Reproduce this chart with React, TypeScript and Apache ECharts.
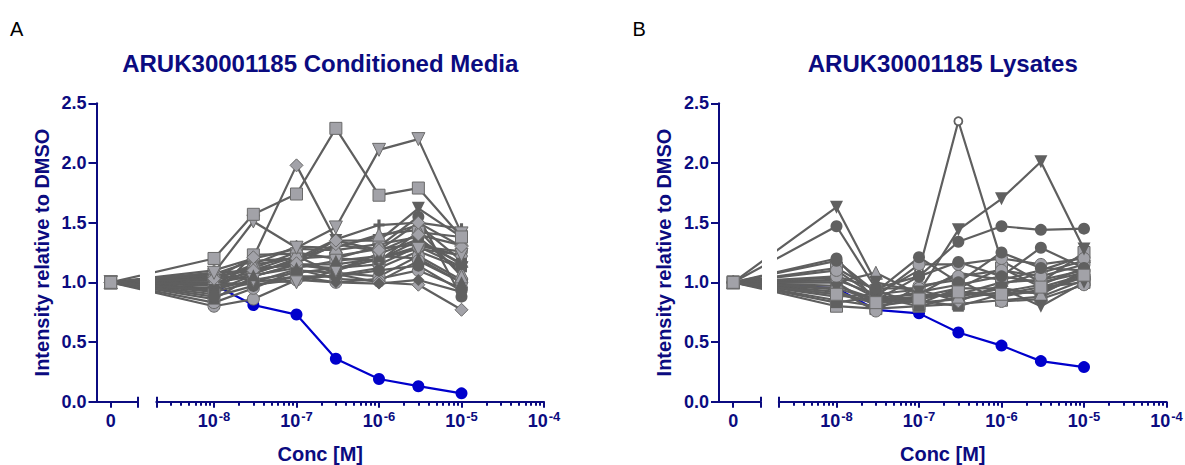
import React, { useEffect, useRef } from 'react';
import * as echarts from 'echarts';

// ---------------- data ----------------
const concentrations = [0, 1e-8, 3e-8, 1e-7, 3e-7, 1e-6, 3e-6, 1e-5];
const yTickValues = [0, 0.5, 1.0, 1.5, 2.0, 2.5];
const decadeTicks = [1e-8, 1e-7, 1e-6, 1e-5, 1e-4];
const logAxisStart = 2e-9;
const panelTitles = ['ARUK30001185 Conditioned Media', 'ARUK30001185 Lysates'];
const panelLetters = ['A', 'B'];
const yAxisTitle = 'Intensity relative to DMSO';
const xAxisTitle = 'Conc [M]';

const mediaControl = [1.0, 0.98, 0.81, 0.73, 0.36, 0.19, 0.13, 0.07];
const lysateControl = [1.0, 0.95, 0.77, 0.74, 0.58, 0.47, 0.34, 0.29];

const mediaTraces = [
  [1, 0.80, 0.86, 1.02, 1.00, 1.03, 1.10, 0.95],
  [1, 0.83, 0.95, 1.10, 1.08, 1.05, 1.22, 1.02],
  [1, 0.86, 1.05, 1.15, 1.15, 1.20, 1.30, 1.13],
  [1, 0.92, 1.00, 1.11, 1.03, 1.01, 1.18, 1.00],
  [1, 1.05, 1.10, 1.22, 1.07, 1.00, 0.98, 0.77],
  [1, 1.00, 0.98, 1.02, 1.06, 1.12, 1.26, 1.12],
  [1, 1.10, 1.20, 1.28, 1.27, 1.32, 1.38, 1.08],
  [1, 0.98, 1.15, 1.20, 1.36, 1.48, 1.50, 1.45],
  [1, 1.02, 1.08, 1.18, 1.35, 1.35, 1.62, 1.38],
  [1, 0.95, 1.12, 1.25, 1.20, 1.30, 1.55, 0.88],
  [1, 1.07, 1.18, 1.20, 1.30, 1.38, 1.48, 1.18],
  [1, 0.90, 1.23, 1.24, 1.20, 1.18, 1.42, 1.38],
  [1, 0.97, 1.00, 1.05, 1.00, 0.99, 1.02, 0.92],
  [1, 1.00, 1.05, 1.15, 1.10, 1.24, 1.36, 1.15],
  [1, 1.04, 1.12, 1.14, 1.12, 1.15, 1.30, 1.26],
  [1, 0.99, 1.07, 1.20, 1.22, 1.28, 1.32, 1.22],
  [1, 1.02, 1.15, 1.30, 1.29, 1.40, 1.44, 1.05],
  [1, 0.94, 1.02, 1.08, 1.12, 1.19, 1.35, 1.16],
  [1, 1.08, 1.10, 1.16, 1.32, 1.26, 1.40, 1.31],
  [1, 0.88, 0.97, 1.05, 1.05, 1.10, 1.14, 0.93],
  [1, 1.06, 1.02, 1.00, 1.10, 1.20, 1.28, 1.23],
  [1, 0.93, 1.06, 1.12, 1.18, 1.22, 1.20, 1.00],
  [1, 1.03, 1.21, 1.98, 1.35, 1.27, 1.50, 1.30],
  [1, 1.08, 1.51, 1.29, 1.46, 2.11, 2.20, 1.41],
  [1, 1.20, 1.57, 1.74, 2.29, 1.73, 1.79, 1.38],
];
const mediaMarkers = [
  'ciL', 'ciL', 'sqD', 'ciL', 'diL', 'tdL', 'trL', 'crD', 'tdD', 'ciD', 'trL', 'sqL', 'diD',
  'hxD', 'ciL', 'hxL', 'trL', 'sqD', 'diL', 'ciD', 'tdL', 'trD', 'diL', 'tdL', 'sqL',
];

const lysateTraces = [
  [1, 1.02, 0.90, 1.10, 2.35, 1.18, 1.00, 1.08],
  [1, 0.80, 0.78, 0.80, 0.82, 0.85, 0.88, 1.02],
  [1, 0.85, 0.80, 0.85, 0.80, 0.90, 0.92, 1.05],
  [1, 0.92, 0.82, 0.88, 0.90, 1.00, 1.02, 1.10],
  [1, 0.97, 0.86, 0.83, 0.86, 0.92, 0.98, 1.12],
  [1, 1.00, 0.80, 0.86, 0.92, 0.88, 0.94, 1.04],
  [1, 0.88, 0.90, 0.94, 0.84, 0.98, 1.08, 1.18],
  [1, 1.12, 0.93, 0.82, 0.95, 1.12, 0.96, 1.00],
  [1, 0.94, 0.76, 0.97, 1.02, 0.84, 0.86, 0.98],
  [1, 1.04, 0.87, 0.90, 1.08, 1.02, 1.10, 1.22],
  [1, 0.83, 0.88, 0.80, 0.88, 0.95, 0.90, 1.10],
  [1, 1.00, 1.08, 0.90, 0.88, 0.95, 0.90, 1.08],
  [1, 0.90, 0.84, 0.92, 0.98, 1.05, 1.00, 1.25],
  [1, 1.05, 0.95, 0.95, 1.05, 1.10, 1.05, 1.15],
  [1, 1.10, 0.88, 1.15, 1.15, 1.20, 1.15, 1.20],
  [1, 0.95, 0.85, 0.88, 0.95, 0.95, 0.80, 1.00],
  [1, 1.18, 0.92, 1.21, 1.00, 1.25, 1.12, 1.10],
  [1, 1.20, 0.85, 1.05, 1.17, 1.05, 1.29, 1.12],
  [1, 1.47, 0.95, 1.05, 1.34, 1.47, 1.44, 1.45],
  [1, 1.63, 1.00, 0.92, 1.44, 1.70, 2.01, 1.28],
  [1, 0.90, 0.83, 0.86, 0.92, 0.90, 0.96, 1.06],
];
const lysateMarkers = [
  'oc', 'sqL', 'sqD', 'ciL', 'ciD', 'ciL', 'diL', 'sqL', 'ciL', 'trL', 'sqD', 'trL',
  'sqL', 'ciL', 'ciL', 'tdD', 'ciD', 'ciD', 'ciD', 'tdD', 'sqL',
];

// ---------------- styles & layout ----------------
const FONT = "'Liberation Sans', Arial, Helvetica, sans-serif";
const NAVY = '#0b0b80';
const BLUE = '#0000cc';
const GRAY_LINE = '#5f5f5f';
const LIGHT = '#a2a2a8';
const DARK = '#606060';

const PANEL_OFFSET = 622.5;
const Y_AXIS_X = 96.5;
const ZERO_X = 110.7;
const BREAK_LEFT = 138;
const X_1E8 = 214;
const DECADE_PX = 82.5;
const PLOT_TOP = 103.3;
const PLOT_BOTTOM = 401.7;

const CROSS = 'path://M5,0H9V5H14V9H9V14H5V9H0V5H5Z';
const HEX = 'path://M4,0L12,0L16,7L12,14L4,14L0,7Z';

const MARKERS: Record<string, any> = {
  sqL: { symbol: 'rect', size: 12, fill: LIGHT, border: true },
  sqD: { symbol: 'rect', size: 11, fill: DARK },
  ciL: { symbol: 'circle', size: 12, fill: LIGHT, border: true },
  ciD: { symbol: 'circle', size: 12, fill: DARK },
  trL: { symbol: 'triangle', size: 13, fill: LIGHT, border: true },
  trD: { symbol: 'triangle', size: 12, fill: DARK },
  tdL: { symbol: 'triangle', size: 13, fill: LIGHT, rotate: 180, border: true },
  tdD: { symbol: 'triangle', size: 13, fill: DARK, rotate: 180 },
  diL: { symbol: 'diamond', size: 13, fill: LIGHT, border: true },
  diD: { symbol: 'diamond', size: 12, fill: DARK },
  crD: { symbol: CROSS, size: 11, fill: DARK },
  hxL: { symbol: HEX, size: 12, fill: LIGHT, border: true },
  hxD: { symbol: HEX, size: 11, fill: DARK },
  oc: { symbol: 'circle', size: 8, fill: '#ffffff', stroke: DARK },
};

const pxToU = (px: number) => -8 + (px - X_1E8) / DECADE_PX;

function buildOption() {
  const grids: any[] = [];
  const xAxes: any[] = [];
  const yAxes: any[] = [];
  const series: any[] = [];
  const graphics: any[] = [];

  const uZeroMin = pxToU(Y_AXIS_X);
  const uZeroMax = pxToU(BREAK_LEFT);
  const uZero = pxToU(ZERO_X);
  const uLogMin = Math.log10(logAxisStart);
  const uLogMax = Math.log10(decadeTicks[decadeTicks.length - 1]);
  const logLeft = X_1E8 + (uLogMin + 8) * DECADE_PX;
  const logWidth = (uLogMax - uLogMin) * DECADE_PX;

  const majorU = decadeTicks.map((c) => Math.log10(c));
  const minorU: number[] = [];
  for (let n = -9; n <= -5; n++) {
    for (let k = 2; k <= 9; k++) {
      const u = n + Math.log10(k);
      if (u > uLogMin + 1e-6 && u < uLogMax - 1e-6) minorU.push(u);
    }
  }

  const tickLabelStyle = { color: NAVY, fontSize: 18, fontWeight: 'bold', fontFamily: FONT };
  const axisLine = { show: true, onZero: false, lineStyle: { color: NAVY, width: 2 } };

  const panels = [
    { control: mediaControl, traces: mediaTraces, markers: mediaMarkers },
    { control: lysateControl, traces: lysateTraces, markers: lysateMarkers },
  ];

  panels.forEach((panel, p) => {
    const dx = p * PANEL_OFFSET;
    const gZ = grids.length;
    grids.push({
      left: Y_AXIS_X + dx, top: PLOT_TOP, width: BREAK_LEFT - Y_AXIS_X,
      height: PLOT_BOTTOM - PLOT_TOP, outerBoundsMode: 'none', containLabel: false,
    });
    const gL = grids.length;
    grids.push({
      left: logLeft + dx, top: PLOT_TOP, width: logWidth,
      height: PLOT_BOTTOM - PLOT_TOP, outerBoundsMode: 'none', containLabel: false,
    });

    const xBase = xAxes.length;
    xAxes.push({
      type: 'value', gridIndex: gZ, position: 'bottom', min: uZeroMin, max: uZeroMax,
      axisLine, splitLine: { show: false },
      axisTick: { show: true, customValues: [uZero, uZeroMax], length: 6, lineStyle: { color: NAVY, width: 2 } },
      axisLabel: { show: true, customValues: [uZero], formatter: () => '0', margin: 10, ...tickLabelStyle },
    });
    xAxes.push({
      type: 'value', gridIndex: gZ, position: 'bottom', min: uZeroMin, max: uZeroMax,
      axisLine: { show: false }, splitLine: { show: false }, axisLabel: { show: false },
      axisTick: { show: true, inside: true, customValues: [uZeroMax], length: 5, lineStyle: { color: NAVY, width: 2 } },
    });
    xAxes.push({
      type: 'value', gridIndex: gL, position: 'bottom', min: uLogMin, max: uLogMax,
      axisLine, splitLine: { show: false },
      axisTick: { show: true, customValues: [uLogMin, ...majorU], length: 6, lineStyle: { color: NAVY, width: 2 } },
      axisLabel: {
        show: true, customValues: majorU, margin: 8,
        formatter: (v: number) => `{b|10}{s|${Math.round(v)}}`,
        rich: {
          b: { ...tickLabelStyle },
          s: { color: NAVY, fontSize: 13, fontWeight: 'bold', fontFamily: FONT, padding: [0, 0, 9, 1] },
        },
      },
    });
    xAxes.push({
      type: 'value', gridIndex: gL, position: 'bottom', min: uLogMin, max: uLogMax,
      axisLine: { show: false }, splitLine: { show: false }, axisLabel: { show: false },
      axisTick: { show: true, customValues: minorU, length: 4, lineStyle: { color: NAVY, width: 2 } },
    });
    xAxes.push({
      type: 'value', gridIndex: gL, position: 'bottom', min: uLogMin, max: uLogMax,
      axisLine: { show: false }, splitLine: { show: false }, axisLabel: { show: false },
      axisTick: { show: true, inside: true, customValues: [uLogMin], length: 5, lineStyle: { color: NAVY, width: 2 } },
    });

    const yZ = yAxes.length;
    yAxes.push({
      type: 'value', gridIndex: gZ, min: yTickValues[0], max: yTickValues[yTickValues.length - 1], interval: 0.5,
      axisLine, splitLine: { show: false },
      axisTick: { show: true, length: 8, lineStyle: { color: NAVY, width: 2 } },
      axisLabel: { margin: 10, formatter: (v: number) => v.toFixed(1), ...tickLabelStyle },
      name: yAxisTitle, nameLocation: 'middle', nameGap: 45,
      nameTextStyle: { color: NAVY, fontSize: 20, fontWeight: 'bold', fontFamily: FONT },
    });
    const yL = yAxes.length;
    yAxes.push({
      type: 'value', gridIndex: gL, min: yTickValues[0], max: yTickValues[yTickValues.length - 1], interval: 0.5,
      show: false,
    });

    const toPoints = (vals: number[]) =>
      concentrations.map((c, i) => [c === 0 ? uZero : Math.log10(c), vals[i]]);

    const addPair = (vals: number[], style: any) => {
      const data = toPoints(vals);
      series.push({ type: 'line', xAxisIndex: xBase, yAxisIndex: yZ, data, clip: true, ...style });
      series.push({ type: 'line', xAxisIndex: xBase + 2, yAxisIndex: yL, data, clip: true, ...style });
    };

    addPair(panel.control, {
      symbol: 'circle', symbolSize: 12,
      itemStyle: { color: BLUE },
      lineStyle: { color: BLUE, width: 2.2 },
      z: 2,
    });

    panel.traces.forEach((vals, i) => {
      const m = MARKERS[panel.markers[i]];
      addPair(vals, {
        symbol: m.symbol, symbolSize: m.size, symbolRotate: m.rotate || 0,
        itemStyle: {
          color: m.fill,
          borderColor: m.stroke || (m.border ? '#6a6a6a' : m.fill),
          borderWidth: m.stroke ? 1.8 : m.border ? 1 : 0,
        },
        lineStyle: { color: GRAY_LINE, width: 2.2 },
        z: 3,
      });
    });

    const centerX = (Y_AXIS_X + X_1E8 + (uLogMax + 8) * DECADE_PX) / 2 + dx;
    graphics.push({
      type: 'text', x: 10 + dx, y: 29,
      style: { text: panelLetters[p], fill: '#000', fontSize: 20, fontFamily: FONT, textAlign: 'left', textVerticalAlign: 'middle', align: 'left', verticalAlign: 'middle' },
    });
    graphics.push({
      type: 'text', x: centerX, y: 63,
      style: { text: panelTitles[p], fill: NAVY, fontSize: 24, fontWeight: 'bold', fontFamily: FONT, textAlign: 'center', textVerticalAlign: 'middle', align: 'center', verticalAlign: 'middle' },
    });
    graphics.push({
      type: 'text', x: centerX, y: 454,
      style: { text: xAxisTitle, fill: NAVY, fontSize: 20, fontWeight: 'bold', fontFamily: FONT, textAlign: 'center', textVerticalAlign: 'middle', align: 'center', verticalAlign: 'middle' },
    });
  });

  return {
    animation: false,
    backgroundColor: '#ffffff',
    grid: grids,
    xAxis: xAxes,
    yAxis: yAxes,
    series,
    graphic: { elements: graphics },
  };
}

export default function App() {
  const ref = useRef<HTMLDivElement>(null);
  useEffect(() => {
    if (!ref.current) return;
    const chart = echarts.init(ref.current, null, { renderer: 'svg' });
    chart.setOption(buildOption() as any);
    return () => chart.dispose();
  }, []);
  return (
    <div
      ref={ref}
      style={{ position: 'absolute', left: 0, top: 0, width: 1185, height: 465, background: '#fff' }}
    />
  );
}
